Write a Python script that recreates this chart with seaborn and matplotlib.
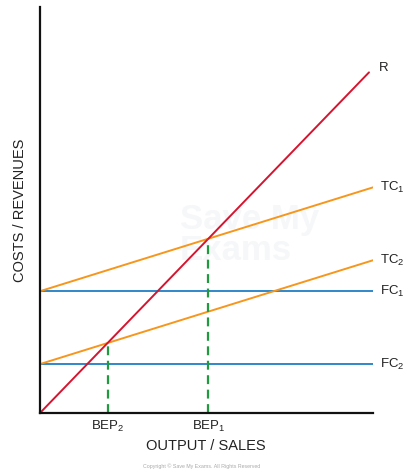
import numpy as np
import pandas as pd
import matplotlib
matplotlib.use("Agg")
import matplotlib.pyplot as plt
import seaborn as sns

# Break-even chart: revenue against two cost structures
output_start = 0.0
output_end = 100.0
revenue_end = 98.8
price = 1.036
variable_cost = 0.312
fixed_costs = [36.6, 14.7]
fc_labels = [r"$\mathregular{FC_1}$", r"$\mathregular{FC_2}$"]
tc_labels = [r"$\mathregular{TC_1}$", r"$\mathregular{TC_2}$"]
bep_labels = [r"$\mathregular{BEP_1}$", r"$\mathregular{BEP_2}$"]
revenue_label = "R"

RED = "#d5152f"
ORANGE = "#f7961c"
BLUE = "#2f87c9"
GREEN = "#1f9a3e"
TEXT = "#222222"

sns.set_theme(style="white")
plt.rcParams["font.family"] = ["Liberation Sans", "DejaVu Sans"]
plt.rcParams["mathtext.default"] = "regular"

fig = plt.figure(figsize=(4.04, 4.72), dpi=100)
ax = fig.add_axes([40 / 404, 59 / 472, 333 / 404, 406 / 472])

xs = np.array([output_start, output_end])

# Fixed cost lines
for fc, lab in zip(fixed_costs, fc_labels):
    df = pd.DataFrame({"q": xs, "v": [fc, fc]})
    sns.lineplot(data=df, x="q", y="v", ax=ax, color=BLUE, lw=1.4, zorder=2)
    ax.text(output_end + 2, fc, lab, ha="left", va="center", fontsize=9.5, color=TEXT)

# Total cost lines
for fc, lab in zip(fixed_costs, tc_labels):
    df = pd.DataFrame({"q": xs, "v": fc + variable_cost * xs})
    sns.lineplot(data=df, x="q", y="v", ax=ax, color=ORANGE, lw=1.4, zorder=3)
    ax.text(output_end + 2, fc + variable_cost * output_end, lab,
            ha="left", va="center", fontsize=9.5, color=TEXT)

# Revenue line
rx = np.array([output_start, revenue_end])
df = pd.DataFrame({"q": rx, "v": price * rx})
sns.lineplot(data=df, x="q", y="v", ax=ax, color=RED, lw=1.4, zorder=4)
ax.text(revenue_end + 3, price * revenue_end + 1.3, revenue_label,
        ha="left", va="center", fontsize=9.5, color=TEXT)

# Break-even points
bep_q = [fc / (price - variable_cost) for fc in fixed_costs]
for q in bep_q:
    ax.plot([q, q], [0, price * q], color=GREEN, lw=1.6,
            dashes=(4, 2.5), zorder=5)

ax.set_xlim(0, 100)
ax.set_ylim(0, 122)
ax.set_xticks(bep_q)
ax.set_xticklabels(bep_labels, fontsize=9.5, color=TEXT)
ax.set_yticks([])
ax.tick_params(axis="x", length=0, pad=4)
ax.set_xlabel("")
ax.set_ylabel("")

for side in ["top", "right"]:
    ax.spines[side].set_visible(False)
for side in ["left", "bottom"]:
    ax.spines[side].set_color("#111111")
    ax.spines[side].set_linewidth(1.6)
    ax.spines[side].set_zorder(6)

fig.text(20 / 404, 1 - 210 / 472, "COSTS / REVENUES", rotation=90,
         ha="center", va="center", fontsize=10.5, color=TEXT)
fig.text(206 / 404, 1 - 446 / 472, "OUTPUT / SALES",
         ha="center", va="center", fontsize=10.5, color=TEXT)

# Faint watermark behind the lines
ax.text(180 / 404, 1 - 219 / 472, "Save My", transform=fig.transFigure,
        ha="left", va="center", fontsize=25, fontweight="bold",
        color="#f6f7f9", zorder=1)
ax.text(180 / 404, 1 - 250 / 472, "Exams", transform=fig.transFigure,
        ha="left", va="center", fontsize=25, fontweight="bold",
        color="#f6f7f9", zorder=1)

fig.text(202 / 404, 1 - 466 / 472, "Copyright \u00a9 Save My Exams. All Rights Reserved",
         ha="center", va="center", fontsize=3.8, color="#aaaaaa")

fig.savefig("out.png", dpi=100)
